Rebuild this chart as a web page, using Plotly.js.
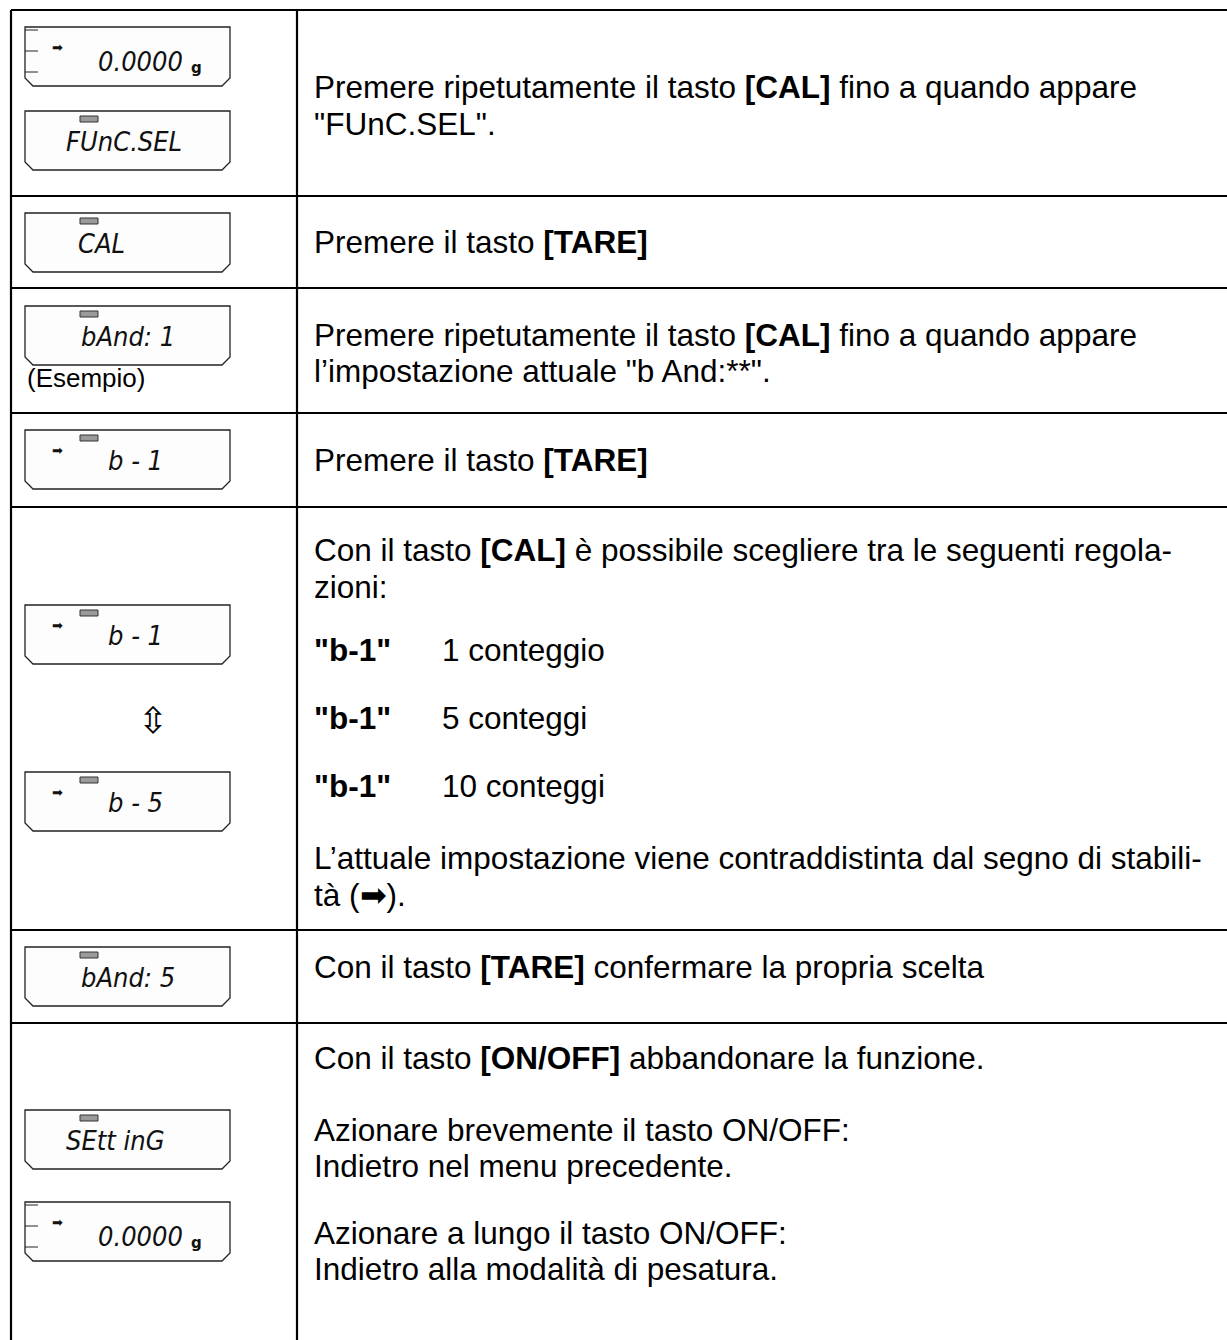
<!DOCTYPE html>
<html><head><meta charset="utf-8">
<script src="https://cdn.plot.ly/plotly-3.0.1.min.js"></script>
<style>html,body{margin:0;padding:0;background:#fff}#chart{width:1227px;height:1340px}</style>
</head><body><div id="chart"></div>
<script>
// ---------- content (text data) ----------
const stepInstructions = [
  ['Premere ripetutamente il tasto <b>[CAL]</b> fino a quando appare', '"FUnC.SEL".'],
  ['Premere il tasto <b>[TARE]</b>'],
  ['Premere ripetutamente il tasto <b>[CAL]</b> fino a quando appare', 'l’impostazione attuale "b And:**".'],
  ['Premere il tasto <b>[TARE]</b>'],
  ['Con il tasto <b>[CAL]</b> è possibile scegliere tra le seguenti regola-', 'zioni:',
   'L’attuale impostazione viene contraddistinta dal segno di stabili-', 'tà (➡).'],
  ['Con il tasto <b>[TARE]</b> confermare la propria scelta'],
  ['Con il tasto <b>[ON/OFF]</b> abbandonare la funzione.', 'Azionare brevemente il tasto ON/OFF:',
   'Indietro nel menu precedente.', 'Azionare a lungo il tasto ON/OFF:', 'Indietro alla modalità di pesatura.']
];
const optionCodes = ['"b-1"', '"b-1"', '"b-1"'];
const optionLabels = ['1 conteggio', '5 conteggi', '10 conteggi'];
const displayReadings = ['0.0000', 'FUnC.SEL', 'CAL', 'bAnd: 1', 'b - 1', 'b - 1', 'b - 5', 'bAnd: 5', 'SEtt inG', '0.0000'];
const displayUnits    = ['g', '', '', '', '', '', '', '', '', 'g'];
const displayMenu     = [false, true, true, true, true, true, true, true, true, false];
const displayStable   = [true, false, false, false, true, true, true, false, false, true];
const displayNote = '(Esempio)';
const toggleSymbol = '⇳';

// ---------- layout geometry ----------
const G = {
  W: 1227, H: 1340, left: 11, divider: 297, top: 10,
  rowEdges: [196, 288, 413, 507, 930, 1023],
  lineY: [[87, 124], [242], [335, 371], [460], [550, 587, 858, 895], [967], [1058, 1130, 1166, 1233, 1269]],
  textX: 312, optionLabelX: 440, optionY: [650, 718, 786],
  boxX0: 25, boxX1: 230, boxH: 59, chamfer: 8,
  boxTop: [27, 111, 213, 306, 430, 605, 772, 947, 1110, 1202],
  readX: [96, 64, 76, 79, 106, 106, 106, 79, 64, 96],
  noteY: 378, toggleY: 720
};
const textFont = {family: 'Liberation Sans, Arial, sans-serif', size: 31.5, color: '#000'};
const lcdFont = {family: 'DejaVu Sans Condensed, DejaVu Sans, sans-serif', size: 27, color: '#111', style: 'italic'};

const shapes = [];
const annotations = [];
const ln = {color: '#000', width: 2.2};
// table grid
shapes.push({type: 'line', x0: G.left, x1: G.W, y0: G.top, y1: G.top, line: ln});
shapes.push({type: 'line', x0: G.left, x1: G.left, y0: G.top, y1: G.H, line: ln});
shapes.push({type: 'line', x0: G.divider, x1: G.divider, y0: G.top, y1: G.H, line: ln});
G.rowEdges.forEach(y => shapes.push({type: 'line', x0: G.left, x1: G.W, y0: y, y1: y, line: ln}));

// instruction texts
stepInstructions.forEach((lines, r) => lines.forEach((t, i) => {
  annotations.push({x: G.textX, y: G.lineY[r][i], text: t, showarrow: false, xanchor: 'left', yanchor: 'middle', font: textFont});
}));
optionCodes.forEach((c, i) => {
  annotations.push({x: G.textX, y: G.optionY[i], text: '<b>' + c + '</b>', showarrow: false, xanchor: 'left', yanchor: 'middle', font: textFont});
  annotations.push({x: G.optionLabelX, y: G.optionY[i], text: optionLabels[i], showarrow: false, xanchor: 'left', yanchor: 'middle', font: textFont});
});

// LCD displays
displayReadings.forEach((r, i) => {
  const t = G.boxTop[i], b = t + G.boxH, c = G.chamfer, x0 = G.boxX0, x1 = G.boxX1;
  shapes.push({type: 'path', path: `M${x0},${t} L${x1},${t} L${x1},${b - c} L${x1 - c},${b} L${x0 + c},${b} L${x0},${b - c} Z`,
    line: {color: '#222', width: 1.3}, fillcolor: '#fdfdfd'});
  if (displayUnits[i]) {
    [3, 24, 45].forEach(dy => shapes.push({type: 'line', x0: x0, x1: x0 + 13, y0: t + dy, y1: t + dy, line: {color: '#222', width: 1}}));
    annotations.push({x: 196, y: t + 41, text: '<b>' + displayUnits[i] + '</b>', showarrow: false, xanchor: 'center', yanchor: 'middle',
      font: {family: 'DejaVu Sans, sans-serif', size: 15, color: '#111'}});
  }
  if (displayMenu[i]) {
    shapes.push({type: 'rect', x0: 80, x1: 98, y0: t + 5, y1: t + 11, line: {color: '#333', width: 1}, fillcolor: '#9a9a9a'});
  }
  if (displayStable[i]) {
    annotations.push({x: 57, y: t + 20, text: '➡', showarrow: false, xanchor: 'center', yanchor: 'middle',
      font: {family: 'DejaVu Sans, sans-serif', size: 13, color: '#111'}});
  }
  const cy = displayUnits[i] ? t + 34 : t + 30;
  annotations.push({x: G.readX[i], y: cy, text: r, showarrow: false, xanchor: 'left', yanchor: 'middle', font: lcdFont});
});
annotations.push({x: G.boxX0, y: G.noteY, text: displayNote, showarrow: false, xanchor: 'left', yanchor: 'middle',
  font: {family: 'Liberation Sans, Arial, sans-serif', size: 26, color: '#000'}});
annotations.push({x: 153, y: G.toggleY, text: toggleSymbol, showarrow: false, xanchor: 'center', yanchor: 'middle',
  font: {family: 'DejaVu Sans, sans-serif', size: 36, color: '#000'}});

const layout = {
  width: G.W, height: G.H, margin: {l: 0, r: 0, t: 0, b: 0},
  paper_bgcolor: '#fff', plot_bgcolor: '#fff', showlegend: false,
  xaxis: {range: [0, G.W], visible: false, fixedrange: true},
  yaxis: {range: [G.H, 0], visible: false, fixedrange: true},
  shapes: shapes, annotations: annotations
};
Plotly.newPlot('chart', [{x: [], y: [], type: 'scatter', hoverinfo: 'skip'}], layout, {displayModeBar: false, staticPlot: true});
</script></body></html>
